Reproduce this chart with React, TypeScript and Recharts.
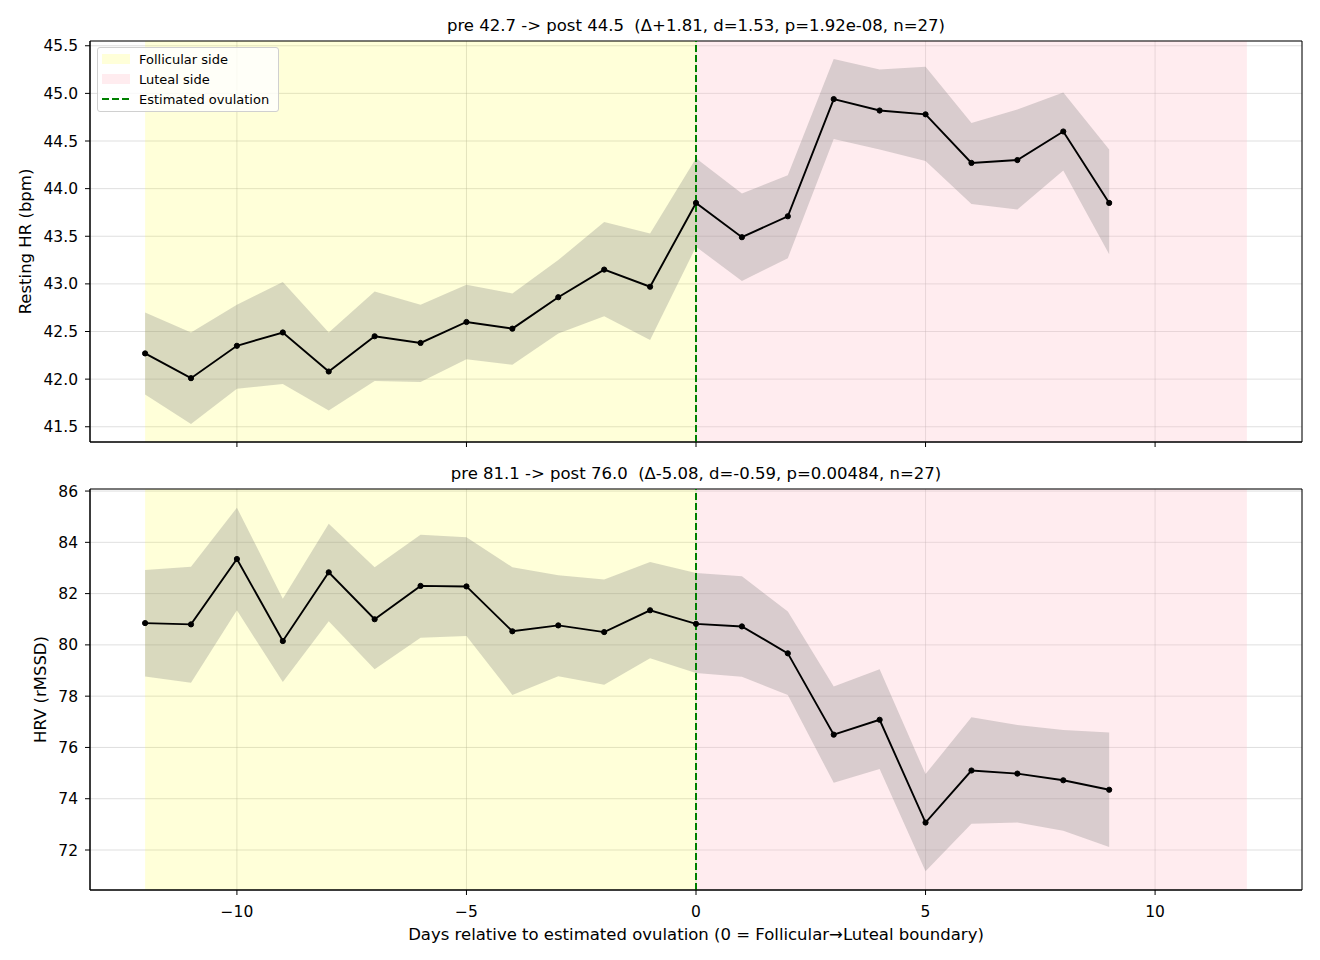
import {
  Area,
  CartesianGrid,
  ComposedChart,
  Label,
  Line,
  ReferenceArea,
  ReferenceLine,
  XAxis,
  YAxis,
} from "recharts";

const days = [-12, -11, -10, -9, -8, -7, -6, -5, -4, -3, -2, -1, 0, 1, 2, 3, 4, 5, 6, 7, 8, 9];

const hrMean = [42.27, 42.01, 42.35, 42.49, 42.08, 42.45, 42.38, 42.6, 42.53, 42.86, 43.15, 42.97, 43.85, 43.49, 43.71, 44.94, 44.82, 44.78, 44.27, 44.3, 44.6, 43.85];
const hrHi = [42.7, 42.49, 42.78, 43.02, 42.49, 42.92, 42.78, 42.99, 42.9, 43.25, 43.65, 43.53, 44.32, 43.95, 44.14, 45.36, 45.25, 45.28, 44.69, 44.83, 45.01, 44.41];
const hrLo = [41.84, 41.53, 41.9, 41.95, 41.67, 41.98, 41.97, 42.21, 42.15, 42.48, 42.66, 42.41, 43.39, 43.03, 43.27, 44.52, 44.41, 44.29, 43.84, 43.78, 44.19, 43.31];

const hrvMean = [80.85, 80.8, 83.35, 80.15, 82.83, 81.0, 82.3, 82.28, 80.53, 80.76, 80.5, 81.35, 80.82, 80.72, 79.67, 76.5, 77.08, 73.07, 75.1, 74.98, 74.72, 74.35];
const hrvHi = [82.92, 83.05, 85.35, 81.8, 84.72, 83.03, 84.3, 84.2, 83.03, 82.72, 82.55, 83.23, 82.8, 82.68, 81.3, 78.38, 79.05, 74.96, 77.18, 76.88, 76.68, 76.58];
const hrvLo = [78.77, 78.52, 81.35, 78.55, 80.92, 79.05, 80.28, 80.35, 78.05, 78.78, 78.45, 79.48, 78.9, 78.76, 78.05, 74.62, 75.16, 71.17, 73.02, 73.07, 72.75, 72.12];

const xTicks = [-10, -5, 0, 5, 10];
const hrTicks = [41.5, 42.0, 42.5, 43.0, 43.5, 44.0, 44.5, 45.0, 45.5];
const hrvTicks = [72, 74, 76, 78, 80, 82, 84, 86];

const hrTitle = "pre 42.7 -> post 44.5  (\u0394+1.81, d=1.53, p=1.92e-08, n=27)";
const hrvTitle = "pre 81.1 -> post 76.0  (\u0394-5.08, d=-0.59, p=0.00484, n=27)";
const xTitle = "Days relative to estimated ovulation (0 = Follicular\u2192Luteal boundary)";

const hrData = days.map((d, i) => ({ day: d, mean: hrMean[i], band: [hrLo[i], hrHi[i]] }));
const hrvData = days.map((d, i) => ({ day: d, mean: hrvMean[i], band: [hrvLo[i], hrvHi[i]] }));

const FONT = "DejaVu Sans, sans-serif";
const X_DOMAIN: [number, number] = [-13.2, 13.2];
const TICK_FS = 15.5;
const LABEL_FS = 16.5;

const fmtX = (v: number) => (v < 0 ? `\u2212${Math.abs(v)}` : `${v}`);

function yLabel(text: string, dx: number) {
  return (props: any) => {
    const vb = props.viewBox;
    const cx = vb.x + dx;
    const cy = vb.y + vb.height / 2;
    return (
      <text x={cx} y={cy} transform={`rotate(-90, ${cx}, ${cy})`} textAnchor="middle" dominantBaseline="central" fontSize={LABEL_FS} fill="#000" fontFamily={FONT}>
        {text}
      </text>
    );
  };
}

function Panel({
  data,
  domain,
  ticks,
  fmtY,
  label,
  labelDx,
  height,
  margin,
  showX,
}: {
  data: any[];
  domain: [number, number];
  ticks: number[];
  fmtY: (v: number) => string;
  label: string;
  labelDx: number;
  height: number;
  margin: { top: number; right: number; bottom: number; left: number };
  showX: boolean;
}) {
  return (
    <ComposedChart width={1320} height={height} data={data} margin={margin} style={{ fontFamily: FONT }}>
      <ReferenceArea x1={-12} x2={0} y1={domain[0]} y2={domain[1]} fill="#ffff00" fillOpacity={0.15} stroke="none" />
      <ReferenceArea x1={0} x2={12} y1={domain[0]} y2={domain[1]} fill="#ffc0cb" fillOpacity={0.3} stroke="none" />
      <CartesianGrid stroke="#b0b0b0" strokeOpacity={0.4} />
      <XAxis
        dataKey="day"
        type="number"
        domain={X_DOMAIN}
        ticks={xTicks}
        allowDataOverflow
        tickFormatter={fmtX}
        tick={showX ? { fontSize: TICK_FS, fill: "#000" } : () => <g />}
        tickSize={5}
        tickMargin={11}
        stroke="#000"
        height={showX ? 56 : 10}
      >
        {showX && (
          <Label
            value={xTitle}
            position="insideBottom"
            offset={6}
            style={{ fontSize: LABEL_FS, fill: "#000", fontFamily: FONT }}
          />
        )}
      </XAxis>
      <YAxis
        type="number"
        domain={domain}
        ticks={ticks}
        allowDataOverflow
        tickFormatter={fmtY}
        tick={{ fontSize: TICK_FS, fill: "#000" }}
        tickSize={5}
        tickMargin={7}
        stroke="#000"
        width={90}
      >
        <Label content={yLabel(label, labelDx)} />
      </YAxis>
      <Area dataKey="band" type="linear" fill="#808080" fillOpacity={0.3} stroke="none" isAnimationActive={false} />
      <ReferenceLine x={0} stroke="#008000" strokeWidth={2} strokeDasharray="7 3" />
      <Line
        dataKey="mean"
        type="linear"
        stroke="#000"
        strokeWidth={1.9}
        dot={{ r: 2.6, fill: "#000", stroke: "#000", strokeWidth: 1 }}
        isAnimationActive={false}
      />
      <ReferenceArea x1={X_DOMAIN[0]} x2={X_DOMAIN[1]} y1={domain[0]} y2={domain[1]} fill="none" stroke="#000" strokeWidth={1} />
    </ComposedChart>
  );
}

function LegendBox() {
  const row = { display: "flex", alignItems: "center", height: 20 } as const;
  const txt = { fontSize: 13, color: "#000", marginLeft: 9, whiteSpace: "nowrap" } as const;
  return (
    <div
      style={{
        position: "absolute",
        left: 97,
        top: 47,
        width: 182,
        height: 65,
        background: "rgba(255,255,255,0.8)",
        border: "1px solid #d0d0d0",
        borderRadius: 3,
        boxSizing: "border-box",
        padding: "1px 0 0 4px",
        fontFamily: FONT,
      }}
    >
      <div style={row}>
        <span style={{ width: 28, height: 10, background: "rgba(255,255,0,0.15)" }} />
        <span style={txt}>Follicular side</span>
      </div>
      <div style={row}>
        <span style={{ width: 28, height: 10, background: "rgba(255,192,203,0.3)" }} />
        <span style={txt}>Luteal side</span>
      </div>
      <div style={row}>
        <svg width={28} height={10}>
          <line x1={0} y1={5} x2={28} y2={5} stroke="#008000" strokeWidth={2} strokeDasharray="7 3" />
        </svg>
        <span style={txt}>Estimated ovulation</span>
      </div>
    </div>
  );
}

const titleStyle = (top: number) =>
  ({
    position: "absolute",
    top,
    left: 90,
    width: 1212,
    textAlign: "center",
    fontSize: LABEL_FS,
    fontFamily: FONT,
    whiteSpace: "pre",
    color: "#000",
  }) as const;

export default function App() {
  return (
    <div style={{ position: "absolute", left: 0, top: 0, width: 1320, height: 960, background: "#fff" }}>
      <div style={{ position: "absolute", left: 0, top: 0 }}>
        <Panel
          data={hrData}
          domain={[41.34, 45.55]}
          ticks={hrTicks}
          fmtY={(v) => v.toFixed(1)}
          label="Resting HR (bpm)"
          labelDx={25}
          height={460}
          margin={{ top: 41, right: 18, bottom: 8, left: 0 }}
          showX={false}
        />
      </div>
      <div style={{ position: "absolute", left: 0, top: 460 }}>
        <Panel
          data={hrvData}
          domain={[70.44, 86.08]}
          ticks={hrvTicks}
          fmtY={(v) => `${v}`}
          label="HRV (rMSSD)"
          labelDx={40}
          height={500}
          margin={{ top: 29, right: 18, bottom: 14, left: 0 }}
          showX
        />
      </div>
      <div style={titleStyle(16)}>{hrTitle}</div>
      <div style={titleStyle(464)}>{hrvTitle}</div>
      <LegendBox />
    </div>
  );
}
